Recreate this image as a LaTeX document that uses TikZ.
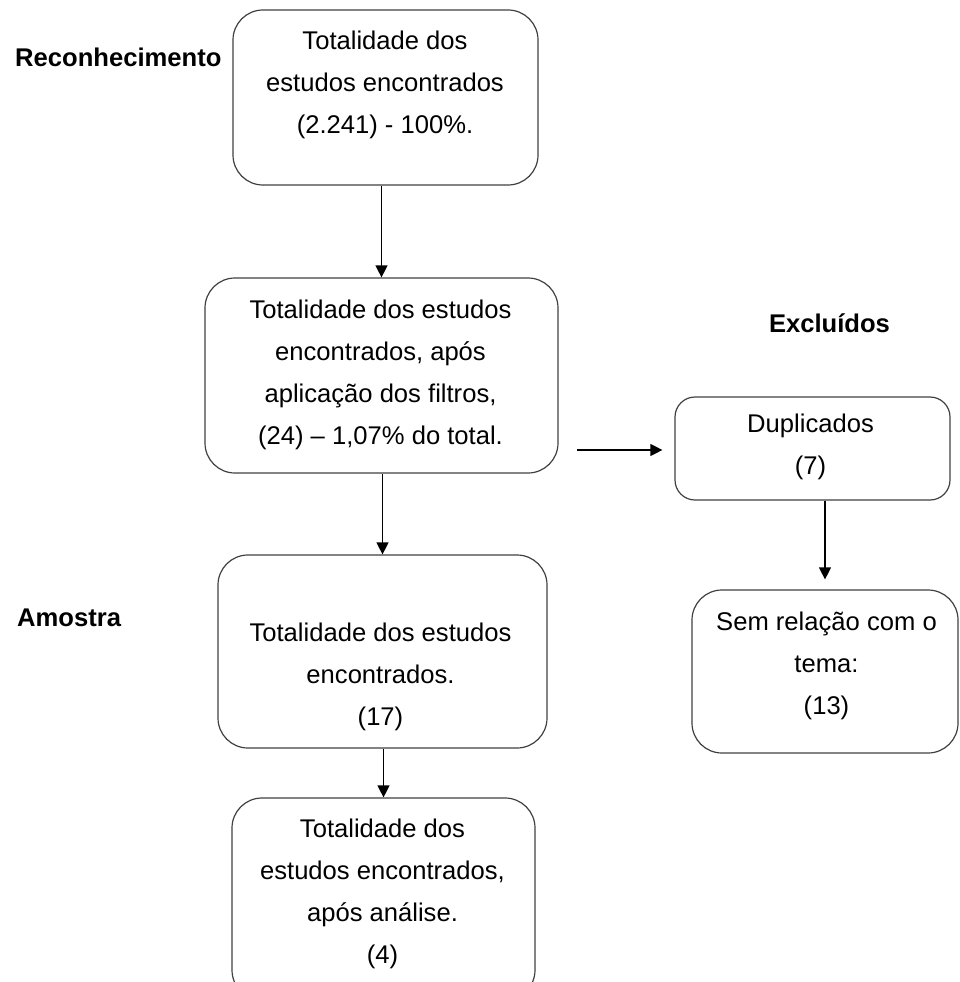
\documentclass[tikz,border=0pt]{standalone}
\usepackage{fontspec}
\setmainfont{Liberation Sans}
\usetikzlibrary{arrows.meta}

\tikzset{
  caixa/.style={draw=black!75, line width=1.2pt, rounded corners=30pt},
  texto/.style={align=center, inner sep=0pt, font=\fontsize{25.6}{42}\selectfont},
  etapa/.style={inner sep=0pt, font=\bfseries\fontsize{25.6}{30}\selectfont}
}

\begin{document}
\begin{tikzpicture}[x=1pt,y=-1pt]
	\useasboundingbox (0,0) rectangle (959,982);
	\clip (0,0) rectangle (959,982);
	% caixas
	\node (total) [caixa, minimum width=305pt, minimum height=175pt] at (385.5,97.5) {};
	\node (filtros) [caixa, minimum width=353pt, minimum height=195pt] at (381.5,375.5) {};
	\node (dup) [caixa, rounded corners=20pt, minimum width=275pt, minimum height=103pt] at (812.5,448.5) {};
	\node (tema) [caixa, minimum width=266pt, minimum height=163pt] at (825,671.5) {};
	\node (amostra) [caixa, minimum width=329pt, minimum height=193pt] at (382.5,651.5) {};
	\node (final) [caixa, minimum width=303pt, minimum height=202pt] at (383.5,899) {};
	% textos
	\node (t-total) [texto] at (385,85) {Totalidade dos\\estudos encontrados\\(2.241) - 100\%.};
	\node (t-filtros) [texto] at (380.5,374.5) {Totalidade dos estudos\\encontrados, após\\aplicação dos filtros,\\(24) – 1,07\% do total.};
	\node (t-dup) [texto] at (810.5,446.5) {Duplicados\\(7)};
	\node (t-tema) [texto] at (826.5,665.5) {Sem relação com o\\tema:\\(13)};
	\node (t-amostra) [texto] at (380.5,676.5) {Totalidade dos estudos\\encontrados.\\(17)};
	\node (t-final) [texto] at (382.5,893.5) {Totalidade dos\\estudos encontrados,\\após análise.\\(4)};
	% etapas
	\node (reco) [etapa, anchor=west] at (15,57.5) {Reconhecimento};
	\node (amo) [etapa, anchor=west] at (17,618) {Amostra};
	\node (exc) [etapa] at (829.5,323) {Excluídos};
	\coordinate (saida) at (577,450);
	\path[-{Stealth[length=12pt,width=12pt,inset=0pt]}, line width=1.2pt]
	(total.south -| filtros.north) edge (filtros.north)
	(filtros.south -| amostra.north) edge (amostra.north)
	(amostra.south -| final.north) edge (final.north)
	(saida) edge [shorten >=12pt] (saida -| dup.west)
	(dup.south -| tema.north) edge [shorten >=10pt] (tema.north)
	;
\end{tikzpicture}
\end{document}
